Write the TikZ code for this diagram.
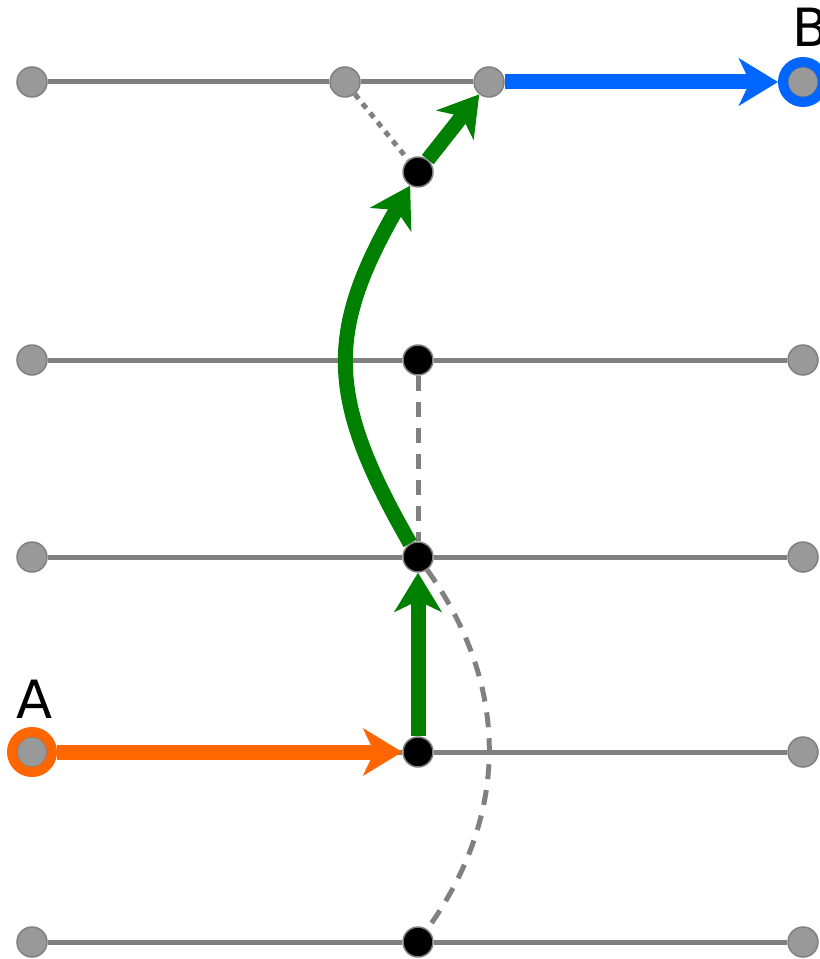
\documentclass[tikz,border=0pt]{standalone}
\usepackage{fontspec}
\setmainfont{DejaVu Sans}
\usetikzlibrary{arrows.meta,positioning,backgrounds}
\definecolor{routeorange}{HTML}{FF6600}
\definecolor{routeblue}{HTML}{0066FF}
\definecolor{routegreen}{HTML}{008000}

\begin{document}
\begin{tikzpicture}[
    x=0.02cm, y=-0.02cm,
    >={Stealth[length=0.78cm, width=0.94cm, inset=0.22cm]},
    stop/.style={circle, fill=gray!80, draw=gray, line width=0.03cm,
                 minimum size=0.6cm, inner sep=0pt},
    hub/.style={stop, fill=black},
    ring/.style={circle, draw=#1, line width=0.2cm, minimum size=0.8cm, inner sep=0pt},
    rail/.style={gray, line width=0.1cm},
    skip/.style={rail, dash pattern=on 0.3cm off 0.22cm},
    route/.style={line width=0.3cm, ->},
    letter/.style={font=\fontsize{30}{36}\selectfont, inner sep=0pt}
]
\useasboundingbox (0,0) rectangle (820,959);

% =========================================================================
% 1. STOPS (top row and four lower rows)
% =========================================================================
\node[stop] (t0) at (32,82)  {};
\node[stop] (t1) at (345,82) {};
\node[stop] (t2) at (489,82) {};
\node[stop] (B)  at (803,82) {};
\node[hub]  (h0) at (418,172) {};

\foreach \y/\n in {360/1, 557/2, 752/3, 942/4} {
    \node[stop] (l\n) at (32,\y)  {};
    \node[hub]  (m\n) at (418,\y) {};
    \node[stop] (r\n) at (803,\y) {};
}

% Start and end rings
\node[ring=routeorange] (Aring) at (l3) {};
\node[ring=routeblue]   (Bring) at (B)  {};
\node[letter, above=0.16cm of Aring, xshift=0.06cm] (Alabel) {A};
\node[letter, above=0.2cm of Bring, xshift=0.16cm] (Blabel) {B};

% =========================================================================
% 2. RAILS AND ROUTE
% =========================================================================
\begin{pgfonlayer}{background}
    % Rails
    \draw[rail] (t0) -- (t1) -- (t2);
    \foreach \n in {1,...,4}
        \draw[rail] (l\n) -- (m\n) -- (r\n);

    % Skipped links
    \draw[rail, dash pattern=on 0.12cm off 0.12cm] (t1) -- (h0);
    \draw[skip] (m1) -- (m2);
    \draw[skip] (m2) .. controls (510,686) and (510,814) .. (m4);

    % Route from A to B
    \draw[route, routeorange] (Aring) -- (m3);
    \draw[route, routegreen] (m3) -- (m2);
    \draw[route, routegreen] (m2) .. controls (326,397) and (326,332) .. (h0);
    \draw[route, routegreen] (h0) -- (t2);
    \draw[route, routeblue] (t2) -- (Bring);
\end{pgfonlayer}

\end{tikzpicture}
\end{document}
